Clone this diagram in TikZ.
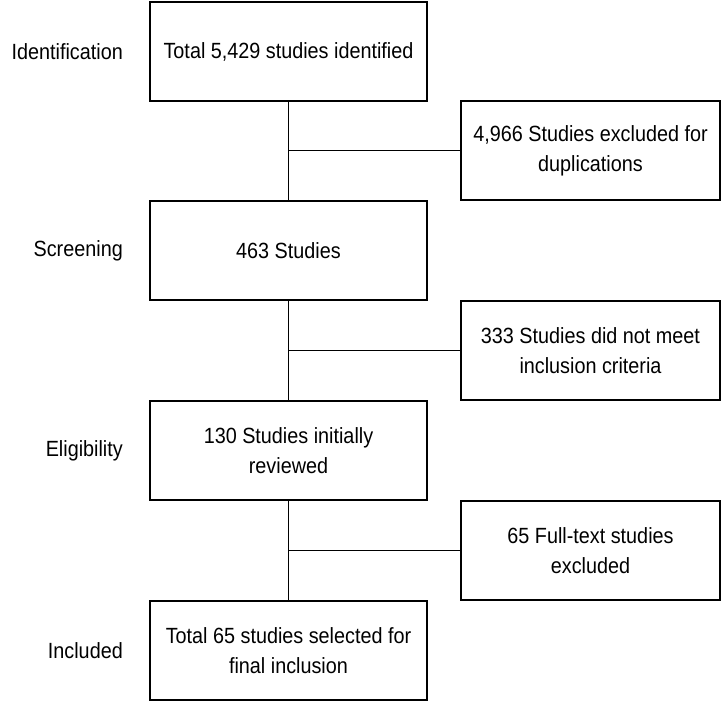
\documentclass[tikz,border=0pt]{standalone}
\usepackage{fontspec}
\setmainfont{Liberation Sans}[FakeStretch=0.9]
\usetikzlibrary{positioning}

\begin{document}
\begin{tikzpicture}[
  x=1pt,y=-1pt,
  stagebox/.style={draw,line width=1.8pt,minimum height=99pt,minimum width=277pt,align=center,font=\fontsize{22}{30}\selectfont,inner sep=0pt},
  exclbox/.style={draw,line width=1.8pt,minimum height=99pt,minimum width=259pt,align=center,font=\fontsize{22}{30}\selectfont,inner sep=0pt},
  phase/.style={anchor=east,font=\fontsize{22}{24}\selectfont,inner sep=0pt},
  link/.style={line width=1.8pt}
]
\useasboundingbox (0,0) rectangle (723,702);
% main column
\node[stagebox] (ident)  at (288.5,51.5)  {Total 5,429 studies identified};
\node[stagebox] (screen) at (288.5,250.5) {463 Studies};
\node[stagebox] (elig)   at (288.5,450.5) {130 Studies initially\\reviewed};
\node[stagebox] (incl)   at (288.5,650.5) {Total 65 studies selected for\\final inclusion};

% exclusions
\node[exclbox] (dup)   at (590.5,150.5) {4,966 Studies excluded for\\duplications};
\node[exclbox] (crit)  at (590.5,350.5) {333 Studies did not meet\\inclusion criteria};
\node[exclbox] (full)  at (590.5,550.5) {65 Full-text studies\\excluded};

% phase labels
\node[phase] (lident)  at (123,51.5)  {Identification};
\node[phase] (lscreen) at (123,250.5) {Screening};
\node[phase] (lelig)   at (123,450.5) {Eligibility};
\node[phase] (lincl)   at (123,650.5) {Included};

\draw[link] (ident) -- (screen);
\draw[link] (screen) -- (elig);
\draw[link] (elig) -- (incl);
\draw[link] (dup.west) -- (dup.west -| ident.south);
\draw[link] (crit.west) -- (crit.west -| screen.south);
\draw[link] (full.west) -- (full.west -| elig.south);
\end{tikzpicture}
\end{document}
